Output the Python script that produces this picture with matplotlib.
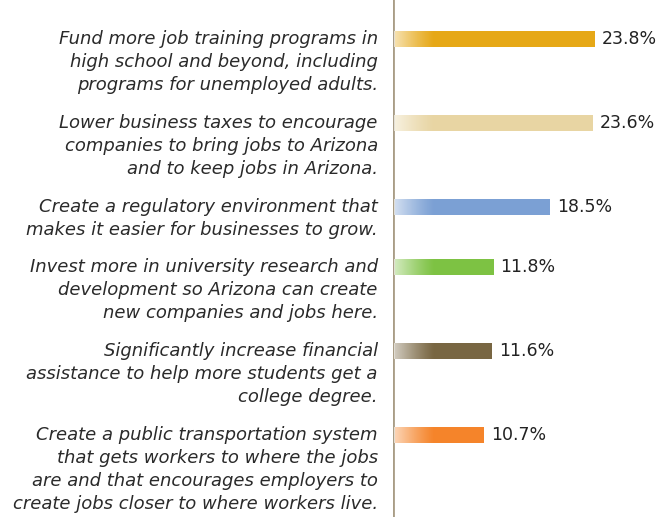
import numpy as np
import matplotlib.pyplot as plt

labels = [
    "Fund more job training programs in\nhigh school and beyond, including\nprograms for unemployed adults.",
    "Lower business taxes to encourage\ncompanies to bring jobs to Arizona\nand to keep jobs in Arizona.",
    "Create a regulatory environment that\nmakes it easier for businesses to grow.",
    "Invest more in university research and\ndevelopment so Arizona can create\nnew companies and jobs here.",
    "Significantly increase financial\nassistance to help more students get a\ncollege degree.",
    "Create a public transportation system\nthat gets workers to where the jobs\nare and that encourages employers to\ncreate jobs closer to where workers live.",
]
values = [23.8, 23.6, 18.5, 11.8, 11.6, 10.7]
colors = ["#E6A817", "#E8D5A3", "#7BA0D4", "#7DC243", "#786642", "#F5842A"]

W, H = 661, 517
axis_x = 393
px_per_pct = 8.43

fig = plt.figure(figsize=(W / 100, H / 100), dpi=100)
ax = fig.add_axes([axis_x / W, 0, (W - axis_x) / W, 1])
ax.axis("off")

# vertical rule
ax.axvline(0, color="#A99D86", lw=2)

# bar positions follow the label heights
ypos = []
y = 39
for lab in labels:
    ypos.append(y)
    y += 24 * (lab.count("\n") + 1) + 12

bar_h = 16
fade = 4.8  # width of the fade-in at the start of each bar
for yc, v, c, lab in zip(ypos, values, colors, labels):
    ax.barh(yc, v, height=bar_h, left=0.15, color=c, edgecolor="none")
    grad = np.zeros((1, 64, 4))
    grad[..., :3] = 1.0
    grad[0, :, 3] = np.linspace(0.72, 0.0, 64) ** 1.2
    ax.imshow(grad, extent=[0.15, 0.15 + fade, yc + bar_h / 2, yc - bar_h / 2],
              aspect="auto", interpolation="bilinear", zorder=3)
    ax.text(v + 0.15 + 0.8, yc + 0.5, f"{v}%", va="center", ha="left",
            fontsize=12.5, color="#222222", family="DejaVu Sans")
    ax.text(-1.8, yc - 9.5, lab, ha="right", va="top", fontsize=13,
            style="italic", color="#2a2a2a", family="DejaVu Sans", linespacing=1.38)

ax.set_xlim(0, (W - axis_x) / px_per_pct)
ax.set_ylim(H, 0)

fig.savefig("out.png", dpi=100)
